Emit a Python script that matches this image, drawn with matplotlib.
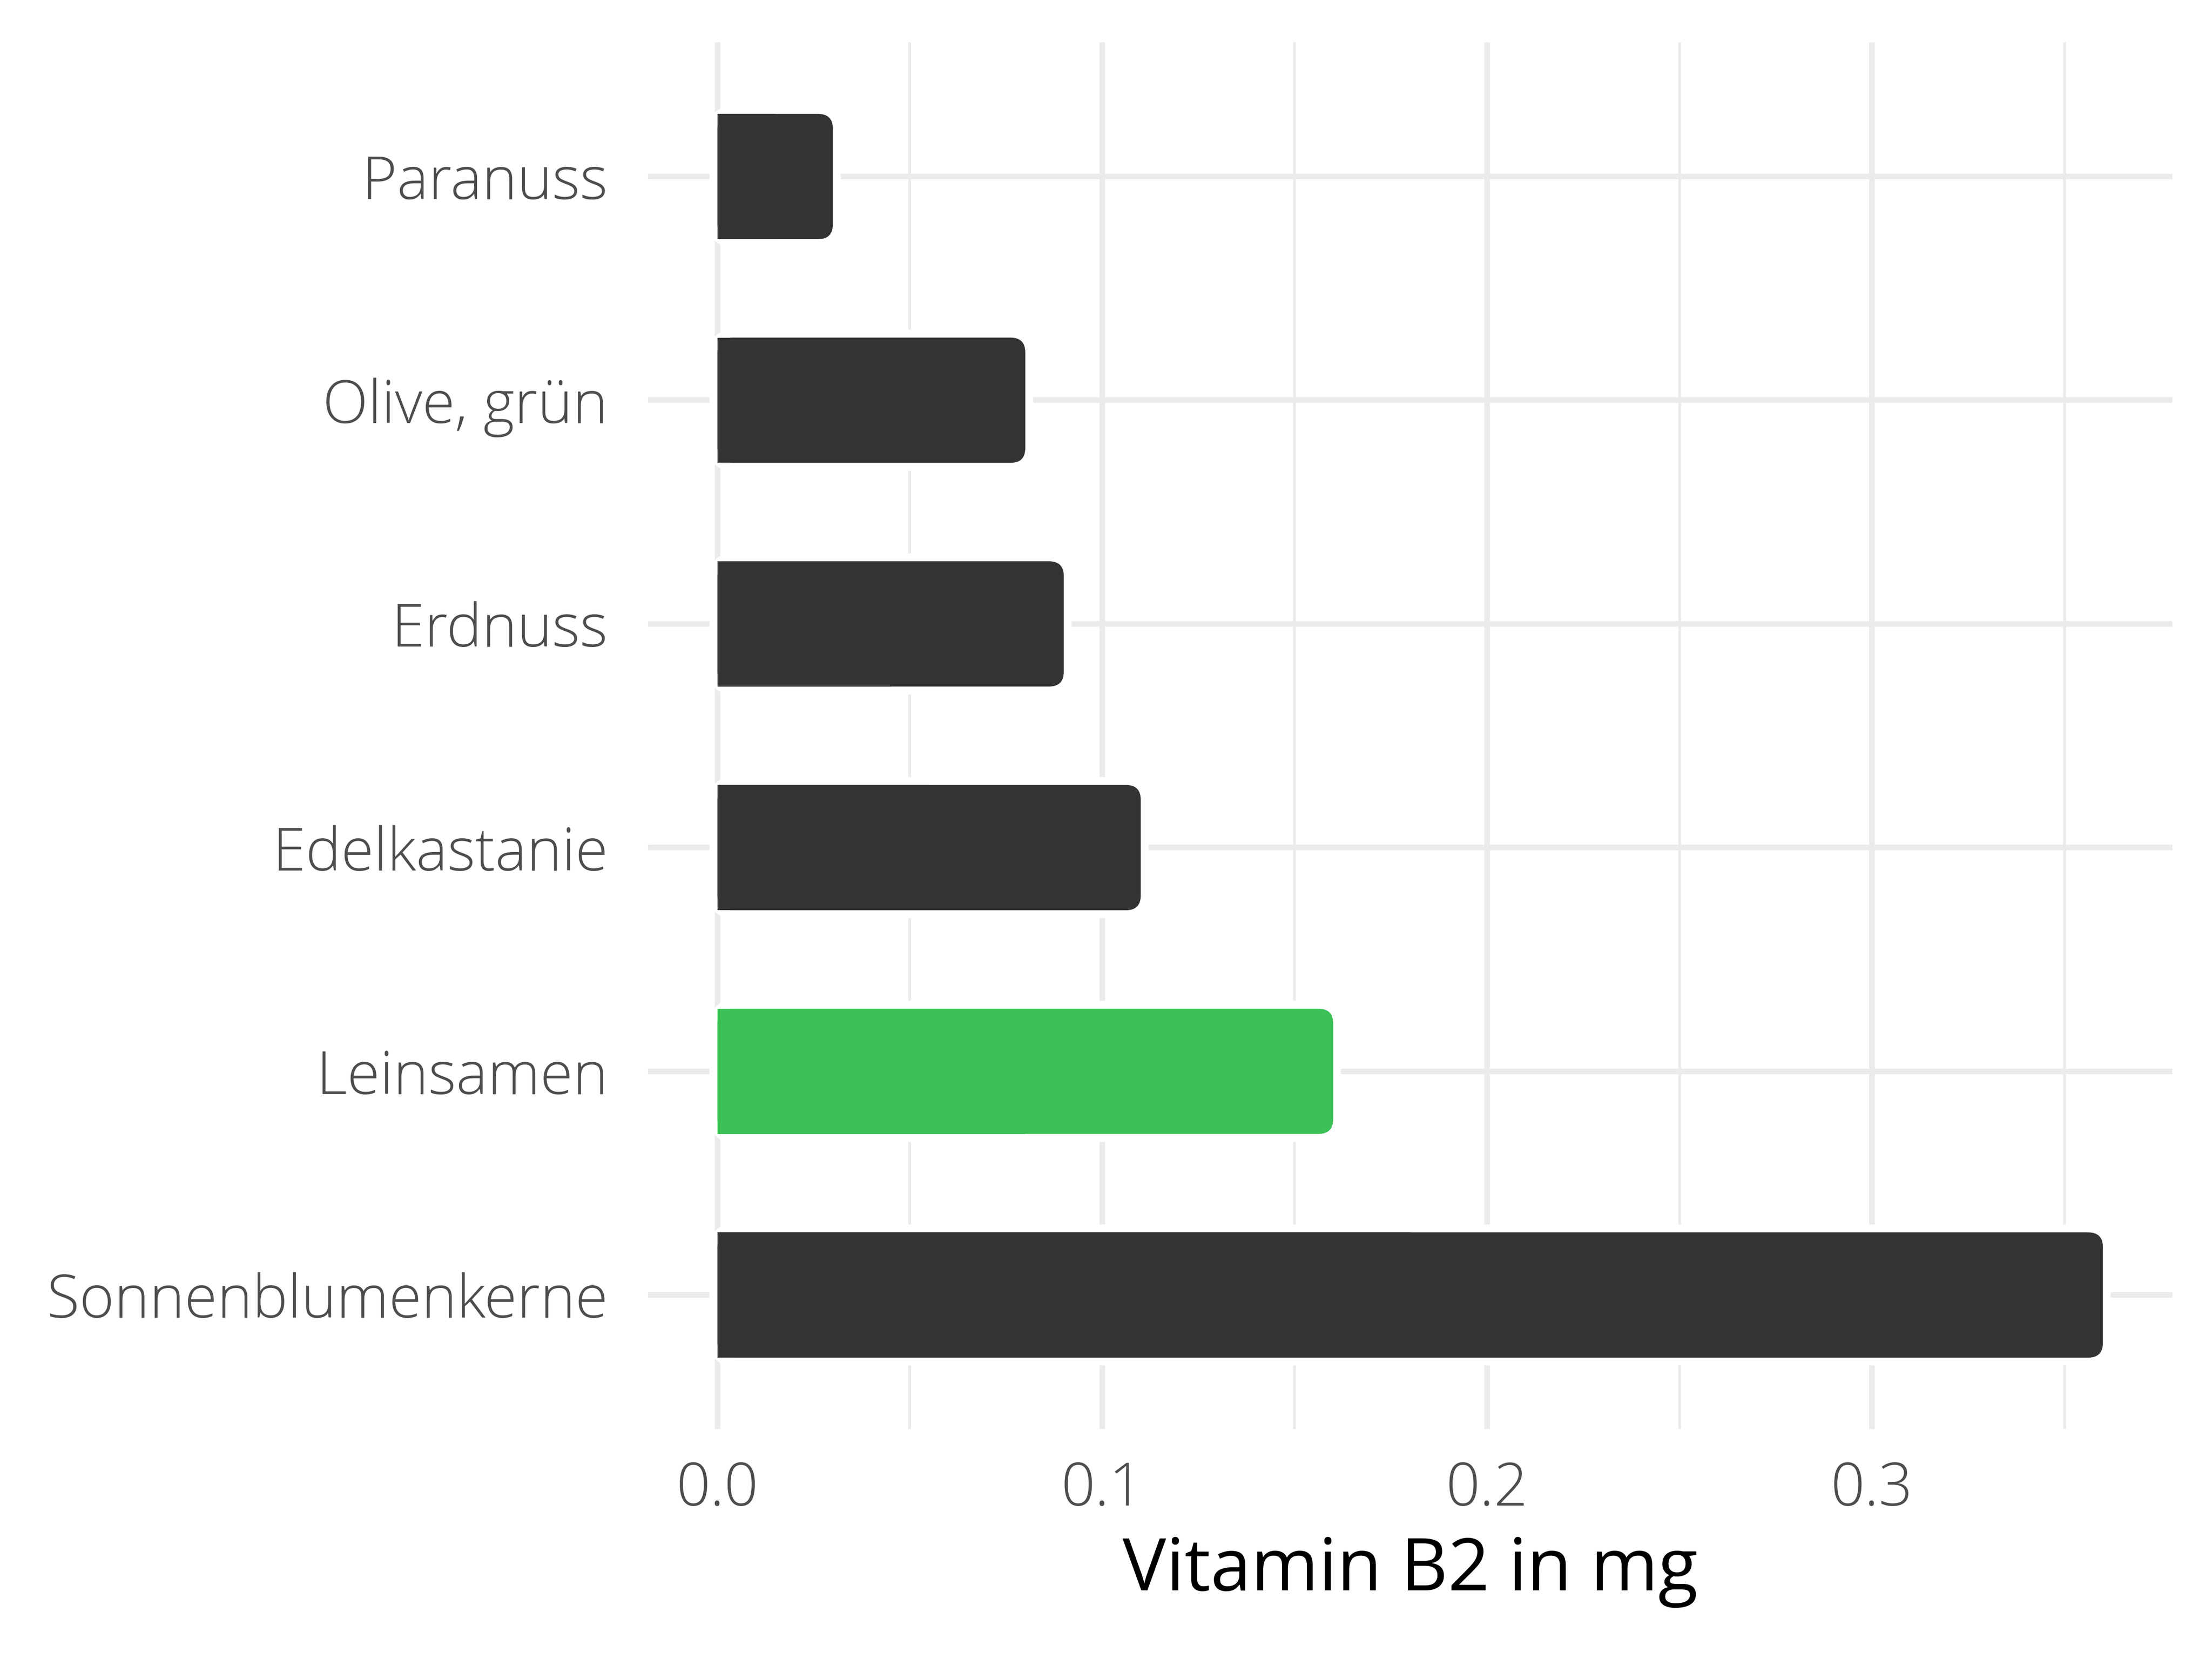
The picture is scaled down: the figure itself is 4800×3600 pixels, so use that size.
import matplotlib
matplotlib.use("Agg")
import matplotlib.pyplot as plt
from matplotlib.patches import FancyBboxPatch, Rectangle
from matplotlib.ticker import MultipleLocator, FormatStrFormatter

# data, top to bottom as shown
foods = ["Paranuss", "Olive, grün", "Erdnuss", "Edelkastanie", "Leinsamen", "Sonnenblumenkerne"]
values = [0.03, 0.08, 0.09, 0.11, 0.16, 0.36]
highlight = "Leinsamen"
xlabel = "Vitamin B2 in mg"

plt.rcParams["font.family"] = ["Open Sans", "DejaVu Sans"]
plt.rcParams["font.weight"] = "light"

dark = "#333333"
green = "#3CC157"
grid_col = "#EBEBEB"

fig = plt.figure(figsize=(16, 12), dpi=300)
ax = fig.add_axes([0.2930, 0.1385, 0.689, 0.836])

n = len(foods)
ypos = list(range(n, 0, -1))  # first category on top
xmax = max(values)
ax.set_xlim(-0.05 * xmax, 1.05 * xmax)
ax.set_ylim(0.4, n + 0.6)

# grid like ggplot theme_minimal
ax.xaxis.set_major_locator(MultipleLocator(0.1))
ax.xaxis.set_minor_locator(MultipleLocator(0.05))
ax.set_yticks(ypos)
ax.set_yticklabels(foods)
ax.grid(which="major", axis="both", color=grid_col, linewidth=2.9, zorder=0)
ax.grid(which="minor", axis="x", color=grid_col, linewidth=1.45, zorder=0)
ax.set_axisbelow(True)
for s in ax.spines.values():
    s.set_visible(False)
ax.tick_params(axis="both", which="both", length=0)
ax.tick_params(axis="y", pad=21, labelsize=31, labelcolor="#4D4D4D")
ax.tick_params(axis="x", pad=16, labelsize=31, labelcolor="#4D4D4D")
ax.xaxis.set_major_formatter(FormatStrFormatter("%.1f"))
ax.set_xlabel(xlabel, fontsize=38, color="black", labelpad=8)

# pixel -> data scale, for round corners that stay circular
fig.canvas.draw()
bbox = ax.get_window_extent()
x_per_px = (ax.get_xlim()[1] - ax.get_xlim()[0]) / bbox.width
y_per_px = (ax.get_ylim()[1] - ax.get_ylim()[0]) / bbox.height
aspect = y_per_px / x_per_px
radius = 32 * x_per_px
bar_h = 0.56

for food, val, y in zip(foods, values, ypos):
    col = green if food == highlight else dark
    # white halo that cuts the grid lines around the bar
    halo = FancyBboxPatch((0, y - bar_h / 2), val, bar_h,
                          boxstyle=f"round,pad=0,rounding_size={radius}",
                          mutation_aspect=aspect, facecolor="white",
                          edgecolor="white", linewidth=8.2, zorder=2)
    ax.add_patch(halo)
    bar = FancyBboxPatch((0, y - bar_h / 2), val, bar_h,
                         boxstyle=f"round,pad=0,rounding_size={radius}",
                         mutation_aspect=aspect, facecolor=col,
                         edgecolor="none", zorder=3)
    ax.add_patch(bar)
    # square off the left end
    ax.add_patch(Rectangle((0, y - bar_h / 2), val / 2, bar_h,
                           facecolor=col, edgecolor="none", zorder=3))

fig.savefig("out.png", dpi=300)
